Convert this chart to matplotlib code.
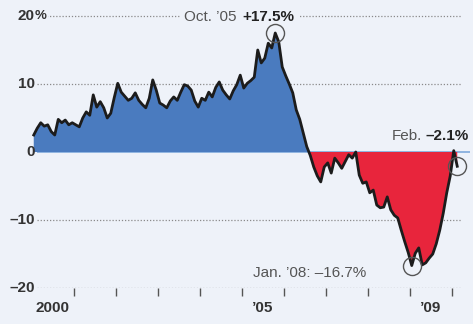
import numpy as np
import matplotlib.pyplot as plt

# Monthly year-over-year change, Jan 2000 through Feb 2010 (percent)
start_year = 2000
values = [
    2.5, 3.5, 4.3, 3.8, 4.0, 3.0, 2.5, 4.8, 4.3, 4.7, 4.0, 4.3,      # 2000
    4.0, 3.7, 5.0, 5.9, 5.4, 8.4, 6.6, 7.4, 6.5, 5.0, 5.7, 8.0,      # 2001
    10.1, 8.8, 8.2, 7.6, 7.9, 8.7, 7.6, 7.0, 6.5, 7.9, 10.6, 9.1,    # 2002
    7.2, 6.9, 6.5, 7.5, 8.1, 7.6, 8.8, 9.9, 9.7, 9.1, 7.5, 6.6,      # 2003
    7.9, 7.6, 8.8, 8.1, 9.5, 10.3, 9.1, 8.4, 7.8, 9.0, 9.9, 11.3,    # 2004
    9.4, 10.1, 10.5, 11.0, 15.0, 13.1, 13.8, 16.0, 15.3, 17.5, 16.2, 12.5,  # 2005
    11.2, 10.0, 8.7, 6.2, 4.8, 2.8, 0.8, -0.5, -2.2, -3.5, -4.4, -2.2,      # 2006
    -1.6, -3.1, -0.9, -1.6, -2.4, -1.4, -0.4, -0.9, 0.0, -3.4, -4.6, -4.4,  # 2007
    -6.0, -5.6, -7.8, -8.2, -8.1, -6.6, -8.5, -9.3, -9.7, -11.5, -13.2, -14.8,  # 2008
    -16.7, -14.9, -14.1, -16.6, -16.3, -15.6, -15.0, -13.5, -11.5, -9.0, -6.0, -3.5,  # 2009
    0.2, -2.1,                                                        # 2010
]
y_ticks = [20, 10, 0, -10, -20]
y_tick_labels = ["20", "10", "0", "\u201310", "\u201320"]
x_label_years = [2000, 2005, 2009]
x_labels = ["2000", "\u201905", "\u201909"]

vals = np.array(values)
t = start_year + (np.arange(len(vals)) + 0.5) / 12

bg = "#eef2f9"
blue = "#4a7bbf"
red = "#e8253c"

plt.rcParams["font.family"] = ["Liberation Sans", "DejaVu Sans"]

fig = plt.figure(figsize=(4.73, 3.24), dpi=100, facecolor=bg)
ax = fig.add_axes([32 / 473, 36 / 324, 438 / 473, 278 / 324])
ax.set_facecolor(bg)
x0, x1 = 2000, 2000 + 438 / 42
ax.set_xlim(x0, x1)
ax.set_ylim(-20, (152 - 10) / 6.8)
for s in ax.spines.values():
    s.set_visible(False)

# dotted gridlines and the zero baseline
for v in y_ticks:
    if v == 0:
        ax.hlines(0, 2000.12, x1, color="#8fb4e0", lw=1.4, zorder=1)
    else:
        ax.hlines(v, 2000.12, 2010.24, color="#8a8a8a", lw=0.9,
                  linestyles=(0, (1, 1.5)), zorder=1)

ax.fill_between(t, vals, 0, where=vals >= 0, interpolate=True,
                color=blue, lw=0, zorder=2)
ax.fill_between(t, vals, 0, where=vals <= 0, interpolate=True,
                color=red, lw=0, zorder=2)
ax.plot(t, vals, color="#1c1c1c", lw=2, zorder=3, solid_joinstyle="round")

# y labels
lab_x = 2000 + 3 / 42
for v, lab in zip(y_ticks, y_tick_labels):
    ax.text(lab_x, v, lab, ha="right", va="center", fontsize=11,
            fontweight="bold", color="#333333", zorder=4)
ax.text(lab_x, 20, "%", ha="left", va="center", fontsize=9.5,
        fontweight="bold", color="#333333", zorder=4,
        bbox=dict(boxstyle="square,pad=0.1", fc=bg, ec="none"))

# x ticks at year boundaries, labels mid-year
ax.set_xticks(range(2001, 2011))
ax.set_xticklabels([])
ax.tick_params(axis="x", which="major", direction="out", length=6,
               width=1, color="#555555")
ax.set_xticks([y + 0.5 for y in x_label_years], minor=True)
ax.set_xticklabels(x_labels, minor=True, fontsize=11, fontweight="bold",
                   color="#333333")
ax.tick_params(axis="x", which="minor", length=0, pad=9)
ax.set_yticks([])

# highlighted points
i_peak = int(np.argmax(vals))
i_low = int(np.argmin(vals))
i_last = len(vals) - 1
for i in (i_peak, i_low, i_last):
    ax.plot(t[i], vals[i], "o", ms=13, mfc="none", mec="#555555", mew=1,
            zorder=5, clip_on=False)

box = dict(boxstyle="square,pad=0.3", fc=bg, ec="none")
ax.text(2004.88, 19.85, "Oct. \u201905", ha="right", va="center",
        fontsize=11, color="#555555", bbox=box, zorder=4)
ax.text(2005.02, 19.85, f"+{vals[i_peak]:.1f}%", ha="left", va="center",
        fontsize=11, fontweight="bold", color="#222222", bbox=box, zorder=4)
ax.text(2009.29, 2.35, "Feb.", ha="right", va="center", fontsize=11,
        color="#555555", zorder=4)
ax.text(2009.36, 2.35, f"\u2013{abs(vals[i_last]):.1f}%", ha="left",
        va="center", fontsize=11, fontweight="bold", color="#222222",
        zorder=4, clip_on=False)
ax.text(2005.26, -17.8, f"Jan. \u201908: \u2013{abs(vals[i_low]):.1f}%",
        ha="left", va="center", fontsize=11, color="#555555", zorder=4)

fig.savefig("out.png", dpi=100, facecolor=bg)
